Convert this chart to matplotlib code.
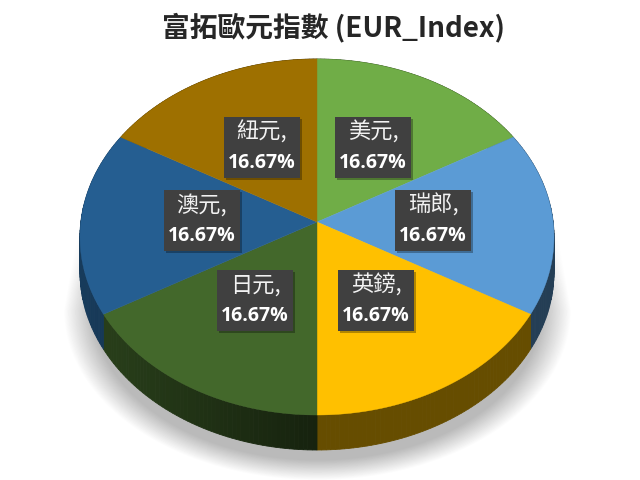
import numpy as np
import matplotlib
matplotlib.use('Agg')
import matplotlib.pyplot as plt
from matplotlib.patches import Polygon, Rectangle

# data
currencies = ['美元', '瑞郎', '英鎊', '日元', '澳元', '紐元']
shares = [16.67, 16.67, 16.67, 16.67, 16.67, 16.67]
title_text = '富拓歐元指數 (EUR_Index)'

# styles
colors = ['#70AD47', '#5B9BD5', '#FFC000', '#43682B', '#255E91', '#9E7000']
label_centers = [(373, 147), (433, 220), (376, 300), (255, 300), (202, 220), (262, 147)]

# pie geometry in pixels
cx, cy = 317, 237
rx, ry = 237, 178
depth = 35
apex = 15  # the slices meet above the middle of the ellipse (perspective)

k = apex / ry  # tilt of the disc
a = rx * np.sqrt(1 - k ** 2)


def project(theta):
    # theta clockwise from the top of the pie, in radians
    u = np.sin(theta)
    v = np.cos(theta)
    w = 1 + k * v
    x = cx + a * u / w
    y = cy - (ry * v + apex) / w
    return x, y


def side_shade(x):
    # right half is flat, left half gets lighter towards the edge
    t = np.clip((cx - x) / rx, 0, 1)
    return np.where(x >= cx, 0.40, 0.33 + 0.30 * t)


fig = plt.figure(figsize=(6.4, 4.8), dpi=100)
ax = fig.add_axes([0, 0, 1, 1])
ax.set_xlim(0, 640)
ax.set_ylim(480, 0)
ax.axis('off')

# soft grey shadow behind the pie, straight sides above and round below
yy, xx = np.mgrid[0:480, 0:640]
half_w = 254.0 - np.clip(310 - yy, 0, None) * 0.17
d = np.sqrt(((xx - 317) / half_w) ** 2 + (np.clip(yy - 310, 0, None) / 170.0) ** 2)
soft = np.clip((1.0 - d) / 0.12, 0, 1)
fade_top = np.clip((yy - 210) / 80.0, 0, 1)
shadow = soft * fade_top
grey = 1 - 0.27 * shadow
ax.imshow(grey, cmap='gray', vmin=0, vmax=1, extent=(0, 640, 480, 0), zorder=0, aspect='auto')
ax.set_xlim(0, 640)
ax.set_ylim(480, 0)

edges = np.cumsum([0] + shares) / np.sum(shares) * 2 * np.pi

# outer wall, only the front shows once the top faces are on it
for i in range(len(shares)):
    base = np.array(matplotlib.colors.to_rgb(colors[i]))
    th = np.linspace(edges[i], edges[i + 1], 60)
    x, y = project(th)
    for j in range(len(th) - 1):
        shade = float(side_shade(np.array((x[j] + x[j + 1]) / 2)))
        c = base * shade
        quad = [(x[j], y[j]), (x[j + 1], y[j + 1]),
                (x[j + 1], y[j + 1] + depth), (x[j], y[j] + depth)]
        ax.add_patch(Polygon(quad, closed=True, facecolor=c, edgecolor=c, lw=0.6, zorder=2))

# top faces
mid_x, mid_y = cx, cy - apex
for i in range(len(shares)):
    th = np.linspace(edges[i], edges[i + 1], 80)
    x, y = project(th)
    pts = [(mid_x, mid_y)] + list(zip(x, y))
    ax.add_patch(Polygon(pts, closed=True, facecolor=colors[i], edgecolor=colors[i], lw=0.3, zorder=3))

# labels
box_w, box_h = 76, 61
for name, value, (lx, ly) in zip(currencies, shares, label_centers):
    ax.add_patch(Rectangle((lx - box_w / 2 + 2, ly - box_h / 2 + 2), box_w, box_h,
                           facecolor='black', alpha=0.3, lw=0, zorder=4))
    ax.add_patch(Rectangle((lx - box_w / 2, ly - box_h / 2), box_w, box_h,
                           facecolor='#404040', lw=0, zorder=5))
    ax.text(lx, ly - 15, name + ',', color='#f2f2f2', ha='center', va='center', fontsize=16,
            family=['Noto Sans CJK TC', 'DejaVu Sans'], zorder=6)
    ax.text(lx, ly + 16, '%.2f%%' % value, color='white', ha='center', va='center', fontsize=14,
            fontweight='bold', family=['Open Sans', 'DejaVu Sans'], zorder=6)

ax.text(334, 27, title_text, color='#262626', ha='center', va='center', fontsize=20,
        fontweight='bold', family=['Noto Sans CJK TC', 'DejaVu Sans'], zorder=6)

fig.savefig('out.png', dpi=100)
